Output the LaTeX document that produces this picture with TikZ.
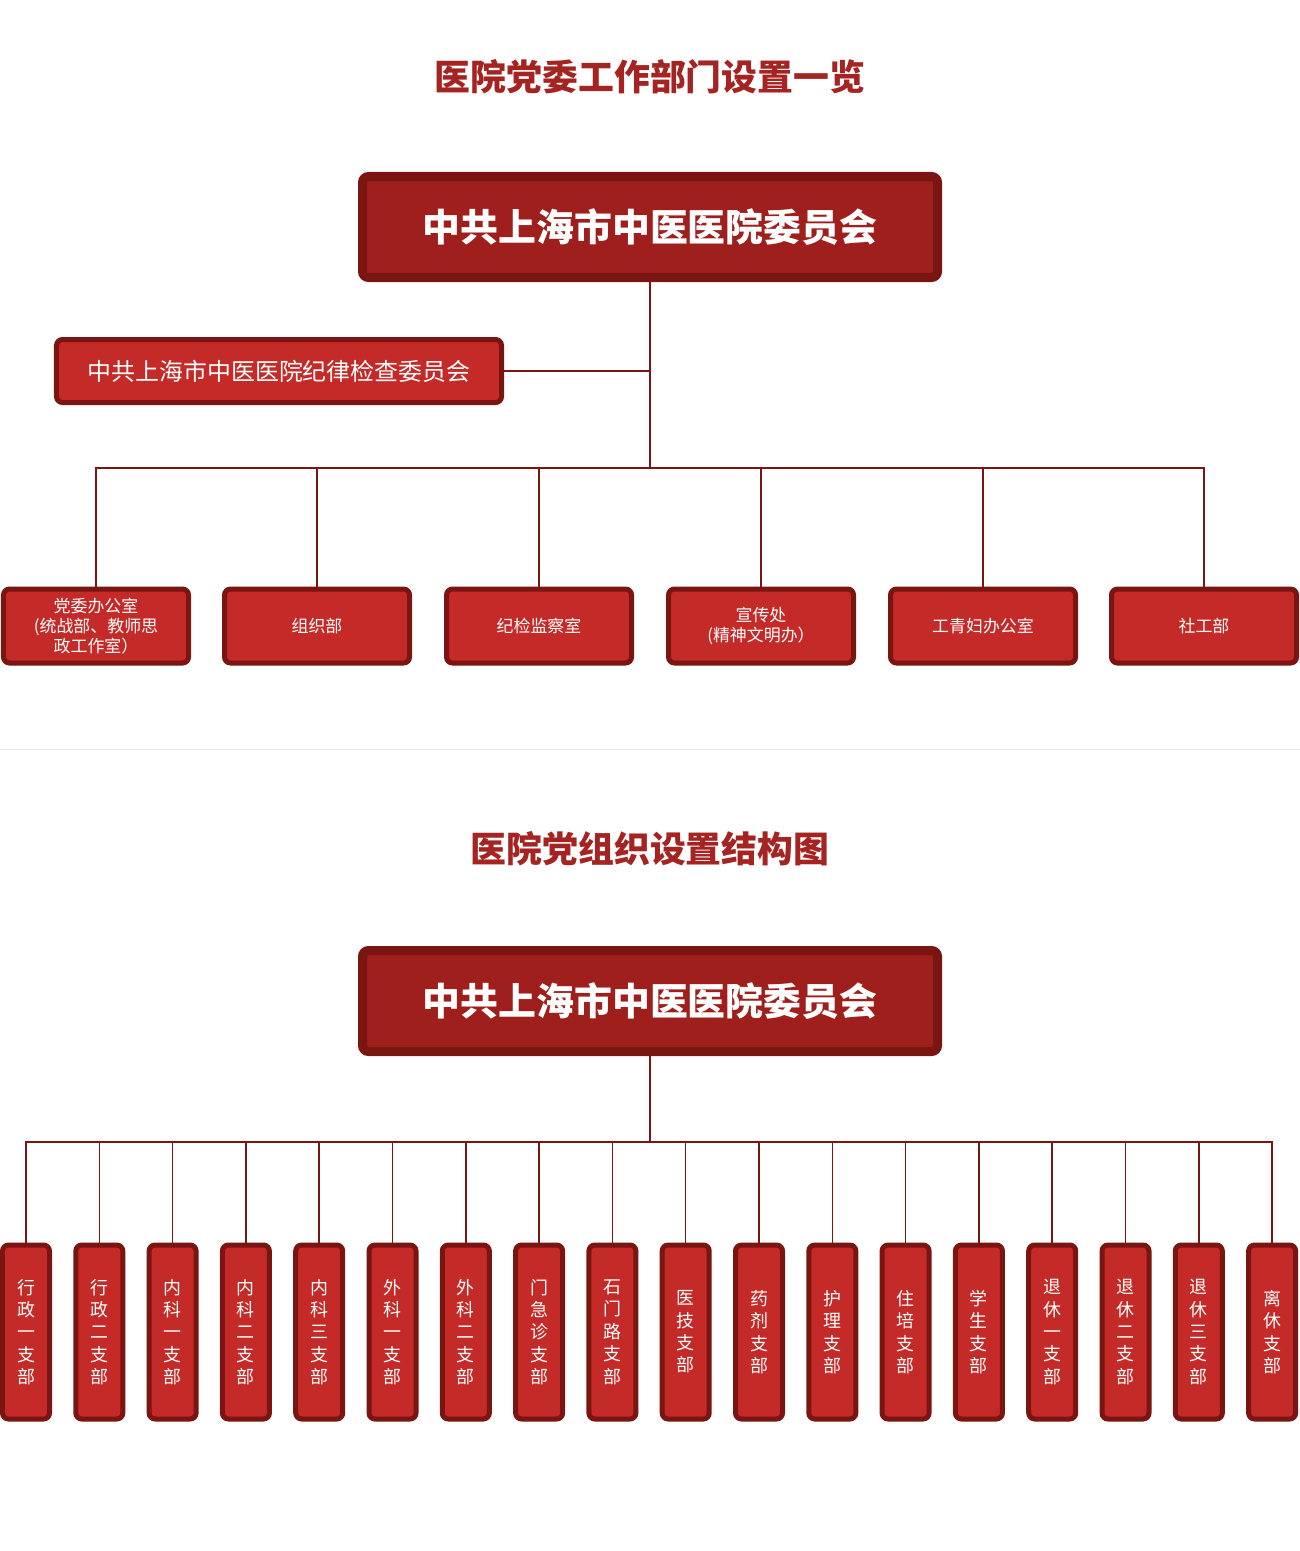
\documentclass[tikz,border=0pt]{standalone}
\usepackage{fontspec}
\setmainfont{Noto Sans CJK SC}
\usetikzlibrary{positioning}
\definecolor{boxred}{HTML}{C42A27}
\definecolor{topred}{HTML}{9E1F1C}
\definecolor{rimred}{HTML}{7A1512}
\definecolor{titlered}{HTML}{A52422}
\tikzset{
  box/.style={draw=rimred, line width=5bp, fill=boxred, rounded corners=6bp,
    text=white, align=center, inner sep=0pt},
  topbox/.style={box, fill=topred, line width=9bp, minimum width=575bp,
    minimum height=101bp, font=\fontsize{38}{40}\selectfont\bfseries},
  dept/.style={box, minimum width=185bp, minimum height=74bp,
    font=\fontsize{17}{20}\selectfont},
  branch/.style={box, minimum width=47bp, minimum height=174bp,
    font=\fontsize{18}{22.5}\selectfont},
  link/.style={draw=rimred, line width=1.5bp},
  title/.style={text=titlered, font=\fontsize{36}{40}\selectfont\bfseries}
}
\begin{document}
\begin{tikzpicture}[x=1bp, y=-1bp]
\useasboundingbox (0,0) rectangle (1300,1551);
%titles
\node[title] (title a) at (650,77) {医院党委工作部门设置一览};
\node[title] (title b) at (650,849) {医院党组织设置结构图};
\draw[black!10, line width=1bp] (0,749) -- (1300,749);
%upper chart
\node[topbox] (party a) at (650,227) {中共上海市中医医院委员会};
\node[box, minimum width=445bp, minimum height=63bp,
  font=\fontsize{24}{26}\selectfont] (discipline) at (279,371) {中共上海市中医医院纪律检查委员会};
\coordinate (bus a) at (650,468);
\draw[link] (party a) -- (bus a);
\draw[link] (discipline) -- (discipline -| party a);
\foreach \x/\name/\txt in {
  96/d1/{党委办公室\\(统战部、教师思\\政工作室）},
  317/d2/组织部,
  539/d3/纪检监察室,
  761/d4/{宣传处\\(精神文明办）},
  983/d5/工青妇办公室,
  1204/d6/社工部}
{
  \node[dept] (\name) at (\x,626) {\txt};
  \draw[link] (\name.north) -- (\name.north |- bus a) -- (bus a);
}
%lower chart
\node[topbox] (party b) at (650,1001) {中共上海市中医医院委员会};
\coordinate (bus b) at (650,1142);
\draw[link] (party b) -- (bus b);
\foreach \i/\txt in {
  0/{行\\政\\一\\支\\部}, 1/{行\\政\\二\\支\\部}, 2/{内\\科\\一\\支\\部},
  3/{内\\科\\二\\支\\部}, 4/{内\\科\\三\\支\\部}, 5/{外\\科\\一\\支\\部},
  6/{外\\科\\二\\支\\部}, 7/{门\\急\\诊\\支\\部}, 8/{石\\门\\路\\支\\部},
  9/{医\\技\\支\\部}, 10/{药\\剂\\支\\部}, 11/{护\\理\\支\\部},
  12/{住\\培\\支\\部}, 13/{学\\生\\支\\部}, 14/{退\\休\\一\\支\\部},
  15/{退\\休\\二\\支\\部}, 16/{退\\休\\三\\支\\部}, 17/{离\\休\\支\\部}}
{
  \node[branch] (b\i) at ({26+73.3*\i},1332) {\txt};
  \node[font=\fontsize{18}{22.5}\selectfont, text=white, align=center, anchor=north]
    at (b\i.north |- 0,1280) {};
  \draw[link] (b\i.north) -- (b\i.north |- bus b) -- (bus b);
}
\end{tikzpicture}
\end{document}
